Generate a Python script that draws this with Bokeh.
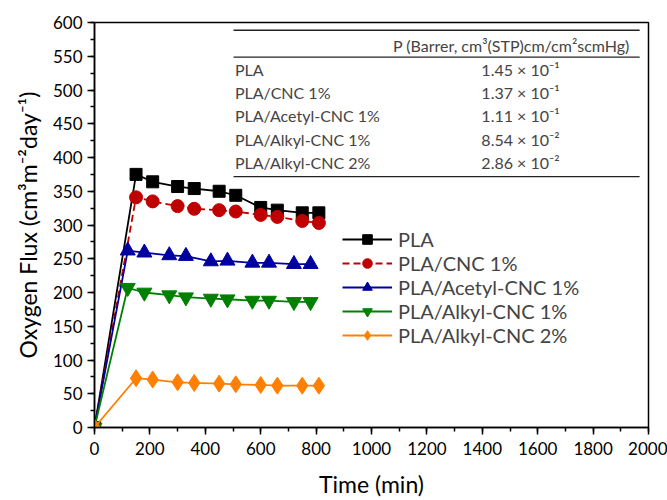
from bokeh.plotting import figure
from bokeh.models import Legend, LegendItem, Label, Range1d, FixedTicker
from bokeh.embed import file_html
from bokeh.resources import INLINE

# ---- data ----
time_a = [0, 150, 210, 300, 360, 450, 510, 600, 660, 750, 810]
time_b = [0, 120, 180, 270, 330, 420, 480, 570, 630, 720, 780]
flux_pla = [0, 375, 364, 357, 354, 350, 344, 326, 322, 318, 318]
flux_cnc1 = [0, 341, 335, 328, 324, 322, 320, 315, 312, 306, 303]
flux_acetyl1 = [0, 262, 259, 255, 254, 246, 247, 244, 244, 242, 242]
flux_alkyl1 = [0, 207, 200, 196, 193, 191, 190, 188, 188, 186, 186]
flux_alkyl2 = [0, 73, 71, 67, 66, 65, 64, 63, 62, 62, 62]

series_names = ["PLA", "PLA/CNC 1%", "PLA/Acetyl-CNC 1%", "PLA/Alkyl-CNC 1%", "PLA/Alkyl-CNC 2%"]
series_times = [time_a, time_a, time_b, time_b, time_a]
series_values = [flux_pla, flux_cnc1, flux_acetyl1, flux_alkyl1, flux_alkyl2]

table_header = "P (Barrer, cm³(STP)cm/cm²scmHg)"
table_names = ["PLA", "PLA/CNC 1%", "PLA/Acetyl-CNC 1%", "PLA/Alkyl-CNC 1%", "PLA/Alkyl-CNC 2%"]
table_values = ["1.45 × 10⁻¹", "1.37 × 10⁻¹", "1.11 × 10⁻¹", "8.54 × 10⁻²", "2.86 × 10⁻²"]

x_ticks = list(range(0, 2001, 200))
y_ticks = list(range(0, 601, 50))

# ---- styles ----
colors = ["#000000", "#C00000", "#0000A0", "#008000", "#FF8000"]
markers = ["square", "circle", "triangle", "inverted_triangle", "diamond"]
sizes = [12, 13, 15, 15, 17]
dashes = ["solid", "7 4", "solid", "solid", "solid"]
FONT = "Lato"

p = figure(width=667, height=500, x_range=Range1d(0, 2000), y_range=Range1d(0, 600),
           output_backend="svg", toolbar_location=None,
           min_border_left=94, min_border_right=19, min_border_top=22, min_border_bottom=71)
p.xgrid.visible = False
p.ygrid.visible = False
p.outline_line_color = "black"
p.outline_line_width = 1.5
p.outline_line_alpha = 1.0

p.xaxis.ticker = FixedTicker(ticks=x_ticks, minor_ticks=list(range(0, 2001, 100)))
p.yaxis.ticker = FixedTicker(ticks=y_ticks, minor_ticks=list(range(0, 601, 25)))
p.xaxis.axis_label = "Time (min)"
p.yaxis.axis_label = "Oxygen Flux (cm³m⁻²day⁻¹)"
for ax in (p.xaxis, p.yaxis):
    ax.axis_line_width = 1.5
    ax.major_tick_in = 0
    ax.major_tick_out = 7
    ax.minor_tick_in = 0
    ax.minor_tick_out = 4
    ax.major_tick_line_width = 1.5
    ax.minor_tick_line_width = 1.5
    ax.major_label_text_font = FONT
    ax.major_label_text_font_size = "17px"
    ax.major_label_text_color = "black"
    ax.axis_label_text_font = FONT
    ax.axis_label_text_font_style = "normal"
    ax.axis_label_text_color = "black"
p.xaxis.axis_label_text_font_size = "23px"
p.yaxis.axis_label_text_font_size = "23px"
p.xaxis.major_label_standoff = 7
p.yaxis.major_label_standoff = 5
p.xaxis.axis_label_standoff = 12
p.yaxis.axis_label_standoff = 8

items = []
for name, t, v, c, m, s, d in zip(series_names, series_times, series_values, colors, markers, sizes, dashes):
    r1 = p.line(t, v, line_color=c, line_width=1.8, line_dash=d)
    r2 = p.scatter(t, v, marker=m, size=s, fill_color=c, line_color=c)
    items.append(LegendItem(label=name, renderers=[r1, r2]))

legend = Legend(items=items, location=(248, 80), glyph_width=50, glyph_height=24,
                label_height=20, spacing=0, padding=0, margin=0,
                border_line_alpha=0, background_fill_alpha=0,
                label_text_font=FONT, label_text_font_size="20px", label_standoff=6)
p.add_layout(legend)

# ---- inset table ----
tab_x0, tab_x1 = 502, 1968
rule_y = [588.5, 548.7, 371.7]
p.segment(x0=[tab_x0] * 3, y0=rule_y, x1=[tab_x1] * 3, y1=rule_y, line_color="#222222", line_width=1.3)
p.add_layout(Label(x=1505, y=566.4, text=table_header, text_align="center", text_baseline="middle",
                   text_font=FONT, text_font_size="16px"))
row_y = [531, 495.6, 461.6, 426.3, 392.3]
for nm, val, yy in zip(table_names, table_values, row_y):
    p.add_layout(Label(x=507, y=yy, text=nm, text_align="left", text_baseline="middle",
                       text_font=FONT, text_font_size="16px"))
    p.add_layout(Label(x=1538, y=yy, text=val, text_align="center", text_baseline="middle",
                       text_font=FONT, text_font_size="16px"))

open("out.html", "w").write(file_html(p, INLINE))
